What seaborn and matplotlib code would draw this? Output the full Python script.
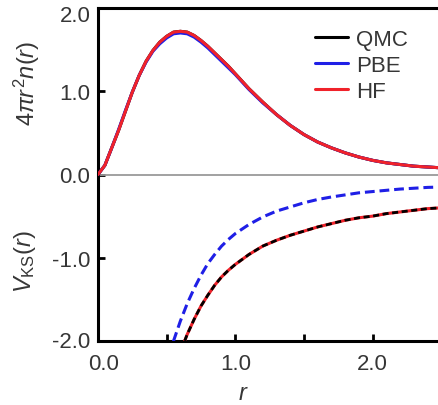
import matplotlib
matplotlib.use("Agg")
import matplotlib.pyplot as plt
import matplotlib.transforms as mtransforms
import pandas as pd
import seaborn as sns

# Radial densities 4*pi*r^2*n(r) of the He atom
r_density = [0.00, 0.05, 0.10, 0.15, 0.20, 0.25, 0.30, 0.35, 0.40, 0.45, 0.50,
             0.55, 0.60, 0.65, 0.70, 0.75, 0.80, 0.85, 0.90, 0.95, 1.00,
             1.10, 1.20, 1.30, 1.40, 1.50, 1.60, 1.70, 1.80, 1.90, 2.00,
             2.10, 2.20, 2.30, 2.40, 2.50, 2.60]
n_qmc = [0.00, 0.11, 0.32, 0.53, 0.76, 0.99, 1.19, 1.36, 1.49, 1.59, 1.66,
         1.71, 1.72, 1.71, 1.67, 1.61, 1.54, 1.46, 1.38, 1.30, 1.21,
         1.03, 0.87, 0.72, 0.59, 0.48, 0.39, 0.32, 0.26, 0.21, 0.17,
         0.14, 0.12, 0.10, 0.09, 0.08, 0.07]
n_pbe = [0.00, 0.11, 0.32, 0.54, 0.77, 0.99, 1.19, 1.35, 1.48, 1.57, 1.64,
         1.69, 1.70, 1.69, 1.65, 1.59, 1.52, 1.44, 1.36, 1.28, 1.20,
         1.02, 0.86, 0.72, 0.59, 0.48, 0.39, 0.32, 0.26, 0.21, 0.17,
         0.14, 0.12, 0.10, 0.09, 0.08, 0.07]
n_hf = [0.00, 0.11, 0.32, 0.53, 0.76, 0.99, 1.19, 1.36, 1.49, 1.59, 1.66,
        1.71, 1.72, 1.71, 1.67, 1.61, 1.54, 1.46, 1.38, 1.30, 1.21,
        1.03, 0.87, 0.72, 0.59, 0.48, 0.39, 0.32, 0.26, 0.21, 0.17,
        0.14, 0.12, 0.10, 0.09, 0.08, 0.07]

# Kohn-Sham potentials
r_potential = [0.50, 0.55, 0.60, 0.65, 0.70, 0.75, 0.80, 0.85, 0.90, 0.95, 1.00,
               1.10, 1.20, 1.30, 1.40, 1.50, 1.60, 1.70, 1.80, 1.90, 2.00,
               2.10, 2.20, 2.30, 2.40, 2.50, 2.60]
v_qmc = [-2.85, -2.45, -2.13, -1.92, -1.74, -1.58, -1.45, -1.33, -1.23, -1.15, -1.08,
         -0.96, -0.86, -0.79, -0.73, -0.68, -0.63, -0.59, -0.55, -0.52, -0.50,
         -0.47, -0.45, -0.43, -0.41, -0.40, -0.38]
v_pbe = [-2.35, -2.00, -1.76, -1.55, -1.37, -1.21, -1.07, -0.96, -0.86, -0.78, -0.71,
         -0.60, -0.51, -0.44, -0.39, -0.34, -0.30, -0.27, -0.245, -0.22, -0.205,
         -0.19, -0.175, -0.165, -0.155, -0.15, -0.14]
v_hf = [-2.85, -2.45, -2.13, -1.92, -1.74, -1.58, -1.45, -1.33, -1.23, -1.15, -1.08,
        -0.96, -0.86, -0.79, -0.73, -0.68, -0.63, -0.59, -0.55, -0.52, -0.50,
        -0.47, -0.45, -0.43, -0.41, -0.40, -0.38]

series_labels = ["QMC", "PBE", "HF"]
y_ticks = [-2.0, -1.0, 0.0, 1.0, 2.0]
y_tick_labels = ["-2.0", "-1.0", "0.0", "1.0", "2.0"]
x_ticks = [0.0, 0.5, 1.0, 1.5, 2.0, 2.5]
x_tick_labels = ["0.0", "", "1.0", "", "2.0", ""]

BLACK = "#000000"
BLUE = "#1f1fe6"
RED = "#f0222a"
TEXT = "#363636"

sns.set_style("ticks")
plt.rcParams["font.family"] = ["Liberation Sans", "DejaVu Sans"]
plt.rcParams["mathtext.fontset"] = "custom"
plt.rcParams["mathtext.rm"] = "Liberation Sans"
plt.rcParams["mathtext.it"] = "Liberation Sans:italic"
plt.rcParams["axes.unicode_minus"] = False

W, H = 439, 406
fig = plt.figure(figsize=(W / 100, H / 100), dpi=100)
px_per_r = 137.3
ax = fig.add_axes([98 / W, 64 / H, 3.0 * px_per_r / W, 333 / H])

dens = pd.DataFrame({"r": r_density, "QMC": n_qmc, "PBE": n_pbe, "HF": n_hf})
pot = pd.DataFrame({"r": r_potential, "QMC": v_qmc, "PBE": v_pbe, "HF": v_hf})

ax.axhline(0.0, color="#9a9a9a", lw=1.3, zorder=1)

lw = 2.2
colors = {"QMC": BLACK, "PBE": BLUE, "HF": RED}
for name in series_labels:
    sns.lineplot(data=dens, x="r", y=name, ax=ax, color=colors[name], lw=lw,
                 errorbar=None, zorder=3)

# potentials: PBE dashed blue, HF solid red, QMC dashed black on top
sns.lineplot(data=pot, x="r", y="PBE", ax=ax, color=BLUE, lw=lw, errorbar=None, zorder=3)
ax.lines[-1].set_dashes((3.2, 1.6))
sns.lineplot(data=pot, x="r", y="HF", ax=ax, color=RED, lw=lw, errorbar=None, zorder=3)
sns.lineplot(data=pot, x="r", y="QMC", ax=ax, color=BLACK, lw=lw * 0.9, errorbar=None, zorder=4)
ax.lines[-1].set_dashes((2.2, 1.3))

ax.set_xlim(0.0, 3.0)
ax.set_ylim(-2.0, 2.0)
ax.set_xlabel("")
ax.set_ylabel("")
ax.set_xticks(x_ticks)
ax.set_xticklabels(x_tick_labels)
ax.set_yticks(y_ticks)
ax.set_yticklabels(y_tick_labels)

for side in ["left", "bottom", "top", "right"]:
    ax.spines[side].set_visible(True)
    ax.spines[side].set_linewidth(2.2)
    ax.spines[side].set_color(BLACK)

ax.tick_params(axis="both", direction="in", length=5, width=2, color=BLACK,
               labelsize=16, labelcolor=TEXT)
ax.tick_params(axis="x", pad=8.5)
ax.tick_params(axis="y", pad=5.5)

# nudge edge labels
for lab in ax.get_xticklabels():
    if lab.get_text() == "0.0":
        lab.set_transform(lab.get_transform() +
                          mtransforms.ScaledTranslation(6 / 100, 0, fig.dpi_scale_trans))
for lab in ax.get_yticklabels():
    if lab.get_text() == "2.0":
        lab.set_transform(lab.get_transform() +
                          mtransforms.ScaledTranslation(0, -5 / 100, fig.dpi_scale_trans))
    if lab.get_text() == "-2.0":
        lab.set_transform(lab.get_transform() +
                          mtransforms.ScaledTranslation(0, 2 / 100, fig.dpi_scale_trans))

handles = ax.lines[1:4]
ax.legend(handles, series_labels, loc="upper left",
          bbox_to_anchor=(315 / W, 1 - 30 / H), bbox_transform=fig.transFigure,
          frameon=False, borderpad=0, borderaxespad=0, handlelength=1.5,
          handletextpad=0.35, labelspacing=0.22, fontsize=16, labelcolor=TEXT)

fig.text(27 / W, 1 - 83 / H, r"$4\pi r^2 n(r)$", rotation=90, ha="center",
         va="center", fontsize=17, color=TEXT)
fig.text(25 / W, 1 - 262 / H, r"$V_{\rm KS}(r)$", rotation=90, ha="center",
         va="center", fontsize=17, color=TEXT)
fig.text(243 / W, 1 - 400 / H, "r", style="italic", ha="center", va="baseline",
         fontsize=17, color=TEXT)

fig.savefig("out.png", dpi=100)
